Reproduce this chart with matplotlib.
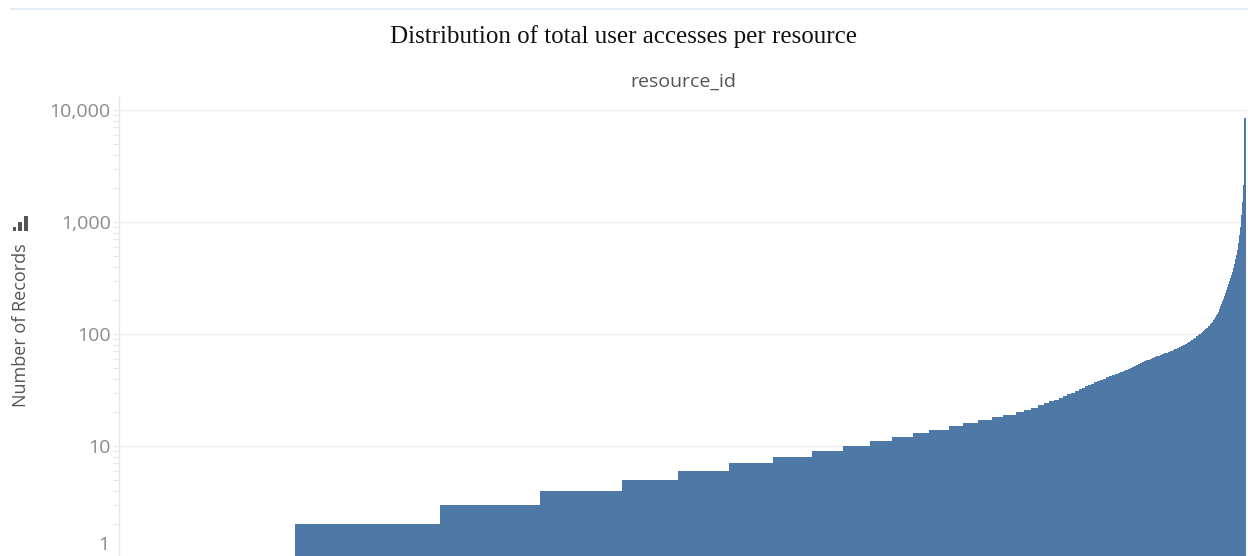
import numpy as np
import matplotlib
matplotlib.use("Agg")
import matplotlib.pyplot as plt
from matplotlib.ticker import FixedLocator, FuncFormatter, NullFormatter, LogLocator
from matplotlib.patches import Rectangle
from matplotlib.lines import Line2D

# accesses per resource, run-length encoded: value -> number of resources with that value
access_values = list(range(1, 81))
resource_counts = [176, 145, 100, 82, 56, 51, 44, 39, 31, 27,
                   22, 21, 16, 20, 14, 15, 14, 11, 13,
                   8, 7, 7, 6, 5, 5, 5, 4, 4, 4, 4, 4,
                   3, 3, 3, 3, 3, 3, 3, 3, 3, 3, 3, 3, 3,
                   2, 3, 2, 3, 2,
                   2, 2, 2, 2, 2, 2, 2, 2, 2, 2,
                   2, 2, 2, 2, 2, 2, 2, 2, 2, 2,
                   1, 2, 1, 2, 1, 2, 1, 1, 2, 1, 1]
# one resource each from here on (sorted ascending)
tail_values = [
    81, 82, 83, 84, 85, 86, 88, 89, 91, 92,
    93, 95, 96, 98, 99, 101, 102, 104, 106, 108,
    110, 112, 114, 117, 119, 122, 125, 129, 133, 137,
    142, 147, 152, 158, 167, 176, 186, 196, 207, 219,
    231, 246, 261, 278, 296, 316, 337, 360, 390, 425,
    465, 510, 560, 650, 760, 900, 1150, 1500, 2150, 8400, 8500]

records = np.concatenate([np.repeat(access_values, resource_counts), tail_values])
n = len(records)

W, H = 1248, 556
fig = plt.figure(figsize=(W / 100, H / 100), dpi=100)
ax = fig.add_axes([119 / W, -2 / H, (W - 119 - 1) / W, (558 - 97) / H])

bar_color = "#4e79a7"
ax.bar(np.arange(n), records, width=1.0, align="edge", color=bar_color,
       linewidth=0, antialiased=False, zorder=2)

ax.set_yscale("log")
ax.set_ylim(1, 13060)
ax.set_xlim(0, n + 1)

ax.yaxis.set_major_locator(FixedLocator([10, 100, 1000, 10000]))
ax.yaxis.set_major_formatter(FuncFormatter(lambda v, p: f"{v:,.0f}"))
ax.yaxis.set_minor_locator(LogLocator(base=10, subs=np.arange(2, 10)))
ax.yaxis.set_minor_formatter(NullFormatter())
ax.tick_params(axis="y", which="major", length=4, width=0.8, color="#e6e6e6",
               labelsize=14, labelcolor="#8a8a8a", pad=2)
ax.tick_params(axis="y", which="minor", length=4, width=0.8, color="#e6e6e6")
ax.tick_params(axis="x", bottom=False, labelbottom=False)
for lbl in ax.get_yticklabels():
    lbl.set_fontfamily("Open Sans")

ax.grid(axis="y", which="major", color="#eeeeee", linewidth=1, zorder=0)
ax.set_axisbelow(True)
for side in ["top", "right", "bottom"]:
    ax.spines[side].set_visible(False)
ax.spines["left"].set_color("#e6e6e6")
ax.spines["left"].set_linewidth(1)

# the "1" label sits a bit above its tick at the clipped bottom edge
ax.annotate("1", xy=(0, 1), xycoords=("axes fraction", "data"),
            xytext=(-10, 13), textcoords="offset pixels",
            ha="right", va="center", fontsize=14, color="#8a8a8a",
            fontfamily="Open Sans", annotation_clip=False)

fig.text(0.5, 1 - 36.5 / H, "Distribution of total user accesses per resource",
         ha="center", va="center", fontsize=18, fontfamily="Liberation Serif",
         color="#111111")
fig.text(683 / W, 1 - 82 / H, "resource_id", ha="center", va="center",
         fontsize=14, fontfamily="Open Sans", color="#555555")
fig.text(21 / W, 1 - 325 / H, "Number of Records", rotation=90,
         ha="center", va="center", fontsize=13, fontfamily="Open Sans",
         color="#555555")

# small bar icon next to the axis title
for x0, x1, ytop in [(12.7, 16, 226.7), (18.3, 21.7, 221.7), (24, 28, 216)]:
    fig.add_artist(Rectangle((x0 / W, 1 - 230.7 / H), (x1 - x0) / W,
                             (230.7 - ytop) / H, transform=fig.transFigure,
                             color="#555555", linewidth=0))

fig.add_artist(Line2D([11 / W, 1], [1 - 8.5 / H] * 2, transform=fig.transFigure,
                      color="#dde9f3", linewidth=1.2))

fig.savefig("out.png", dpi=100)
